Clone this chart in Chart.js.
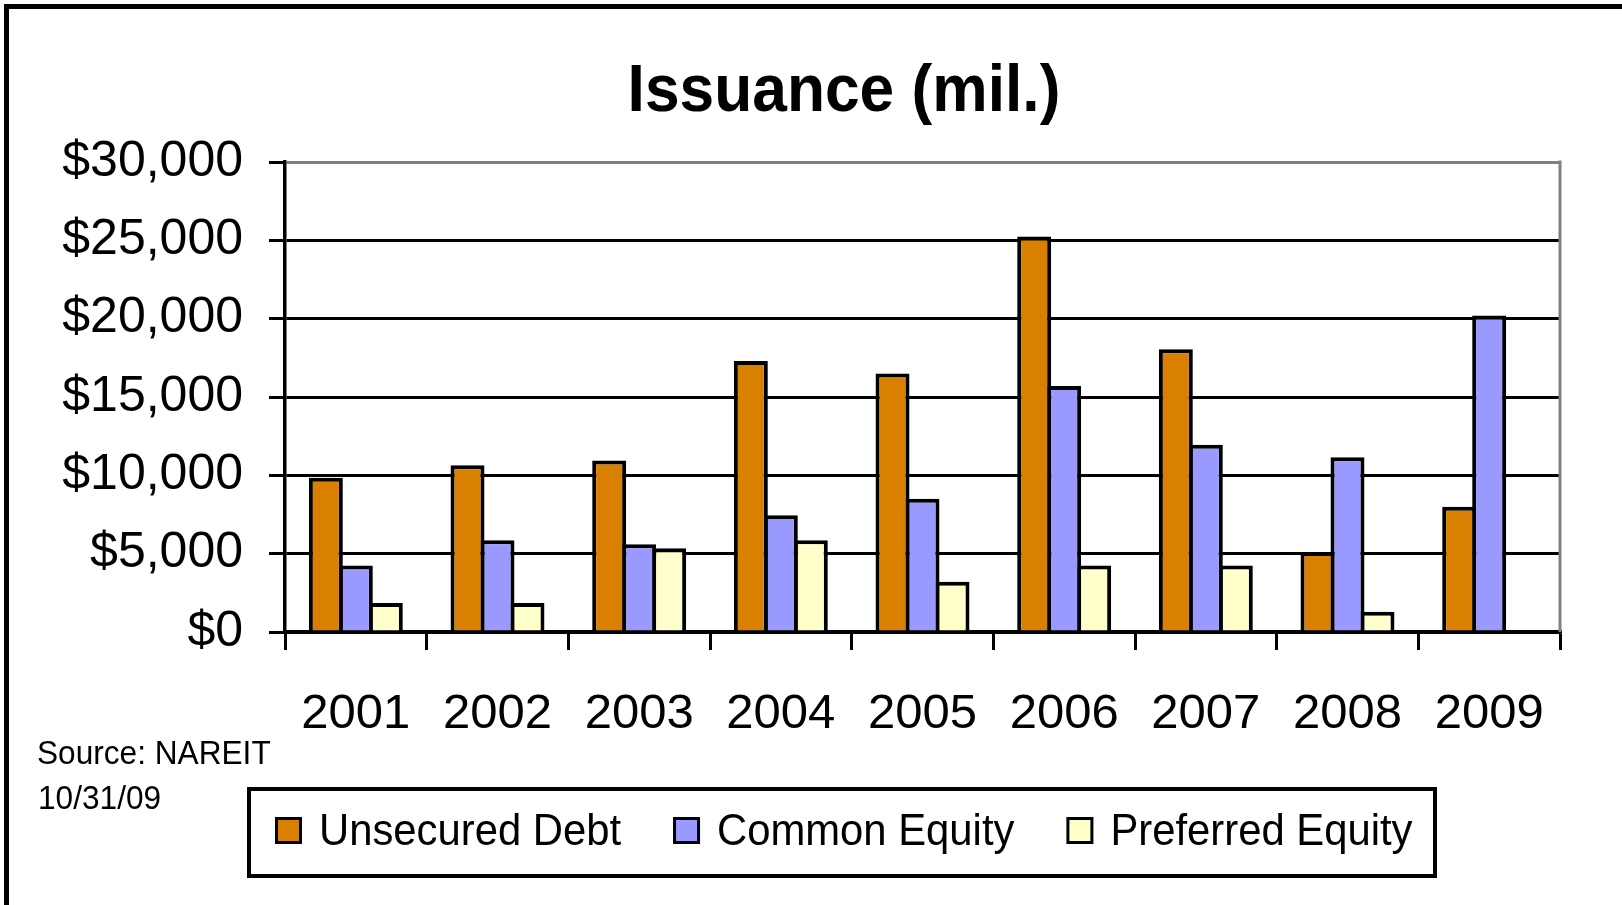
<!DOCTYPE html>
<html>
<head>
<meta charset="utf-8">
<title>Issuance (mil.)</title>
<script src="https://cdn.jsdelivr.net/npm/chart.js@4.4.1/dist/chart.umd.min.js"></script>
<style>
    html, body { margin: 0; padding: 0; background: #fff; }
    #wrap { position: relative; width: 1622px; height: 905px; }
</style>
</head>
<body>
<div id="wrap"><canvas id="issuanceChart"></canvas></div>
<script>
// Data
const years = ["2001", "2002", "2003", "2004", "2005", "2006", "2007", "2008", "2009"];
const unsecuredDebt = [9850, 10650, 10950, 17300, 16500, 25250, 18050, 5100, 8000];
const commonEquity = [4250, 5850, 5600, 7450, 8500, 15700, 11950, 11150, 20200];
const preferredEquity = [1850, 1850, 5350, 5850, 3200, 4250, 4250, 1300, 0];
const yTickValues = [0, 5000, 10000, 15000, 20000, 25000, 30000];

const seriesNames = ["Unsecured Debt", "Common Equity", "Preferred Equity"];
const seriesColors = ["#D98000", "#9999FF", "#FFFFCC"];

const FONT = "'Liberation Sans', Arial, sans-serif";
Chart.defaults.font.family = FONT;
Chart.defaults.color = "#000";

// draw text squeezed a little horizontally, like the original slide font
function drawText(ctx, text, x, y, size, sx, align, bold) {
    ctx.save();
    ctx.font = (bold ? "bold " : "") + size + "px " + FONT;
    ctx.textAlign = align;
    ctx.textBaseline = "alphabetic";
    ctx.fillStyle = "#000";
    const w = ctx.measureText(text).width * sx;
    ctx.translate(x, y);
    ctx.scale(sx, 1);
    ctx.fillText(text, 0, 0);
    ctx.restore();
    return w;
}

// frame, title, source note, boxed legend
const slideDecor = {
    id: "slideDecor",
    afterDraw(chart) {
        const ctx = chart.ctx;
        const area = chart.chartArea;

        ctx.save();
        ctx.strokeStyle = "#000";
        ctx.lineWidth = 5;
        ctx.beginPath();
        ctx.moveTo(6.5, 905);
        ctx.lineTo(6.5, 6.5);
        ctx.lineTo(1622, 6.5);
        ctx.stroke();

        // grey right edge of the plot
        ctx.strokeStyle = "#808080";
        ctx.lineWidth = 3;
        ctx.beginPath();
        ctx.moveTo(area.right, area.top - 1.5);
        ctx.lineTo(area.right, area.bottom);
        ctx.stroke();
        ctx.restore();

        drawText(ctx, "Issuance (mil.)", 844, 111, 67, 0.93, "center", true);
        drawText(ctx, "Source: NAREIT", 37, 764, 34, 0.93, "left", false);
        drawText(ctx, "10/31/09", 38, 809, 34, 0.93, "left", false);

        // legend box
        ctx.save();
        ctx.strokeStyle = "#000";
        ctx.lineWidth = 4;
        ctx.strokeRect(249, 789, 1186, 87);
        ctx.restore();

        let x = 275;
        chart.data.datasets.forEach(ds => {
            ctx.save();
            ctx.fillStyle = ds.backgroundColor;
            ctx.fillRect(x, 817, 27, 27);
            ctx.strokeStyle = "#000";
            ctx.lineWidth = 3;
            ctx.strokeRect(x + 1.5, 818.5, 24, 24);
            ctx.restore();
            const w = drawText(ctx, ds.label, x + 44, 845, 44, 0.95, "left", false);
            x += 44 + w + 52;
        });
    }
};

const ctx = document.getElementById("issuanceChart").getContext("2d");
const issuanceChart = new Chart(ctx, {
    type: "bar",
    data: {
        labels: years,
        datasets: [unsecuredDebt, commonEquity, preferredEquity].map((values, i) => ({
            label: seriesNames[i],
            data: values,
            backgroundColor: seriesColors[i],
            borderColor: "#000",
            borderWidth: c => (c.raw ? 4 : 0),
            categoryPercentage: 0.635,
            barPercentage: 1.133
        }))
    },
    options: {
        responsive: true,
        maintainAspectRatio: false,
        animation: false,
        layout: { padding: { top: 162, right: 62, bottom: 163, left: 0 } },
        plugins: {
            legend: { display: false },
            title: { display: false },
            tooltip: { enabled: false }
        },
        scales: {
            x: {
                grid: {
                    offset: true,
                    drawOnChartArea: false,
                    drawTicks: true,
                    tickLength: 18,
                    color: "#000",
                    lineWidth: 3
                },
                border: { display: true, color: "#000", width: 3.5 },
                ticks: { font: { size: 49 }, padding: 35, maxRotation: 0 },
                afterFit: s => { s.height = 110; }
            },
            y: {
                min: 0,
                max: 30000,
                afterBuildTicks: s => { s.ticks = yTickValues.map(v => ({ value: v })); },
                grid: {
                    color: c => (c.tick && c.tick.value === 30000 ? "#808080" : "#000"),
                    tickColor: "#000",
                    lineWidth: 3,
                    tickLength: 16
                },
                border: { display: true, color: "#000", width: 3.5 },
                ticks: {
                    font: { size: 50 },
                    padding: 26,
                    callback: v => "$" + v.toLocaleString("en-US")
                },
                afterFit: s => { s.width = 285; }
            }
        }
    },
    plugins: [slideDecor]
});
</script>
</body>
</html>
